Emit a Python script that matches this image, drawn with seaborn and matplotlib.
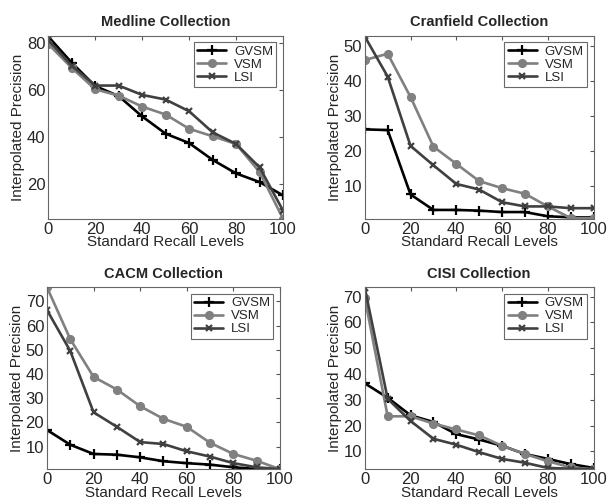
import matplotlib
matplotlib.use("Agg")
import matplotlib.pyplot as plt
import seaborn as sns

sns.set_style("white")
plt.rcParams['font.family'] = ['Liberation Sans', 'DejaVu Sans']
plt.rcParams['font.size'] = 10

recall = [0, 10, 20, 30, 40, 50, 60, 70, 80, 90, 100]

# Medline
med_gvsm = [83, 71.8, 61.8, 57.5, 48.8, 41.4, 37.4, 30.2, 24.4, 20.7, 15]
med_vsm = [79.8, 69.6, 60.4, 57.7, 53, 49.6, 43.5, 40.3, 37, 25, 5]
med_lsi = [81.5, 70.5, 62, 62, 58, 56, 51, 42, 37, 27, 8.5]

# Cranfield
cran_gvsm = [26.2, 26, 7.7, 3.3, 3.3, 3.1, 2.7, 2.7, 1.5, 1.2, 1.2]
cran_vsm = [45.9, 47.7, 35.4, 21.3, 16.4, 11.5, 9.5, 7.9, 4.3, 1.0, 1.0]
cran_lsi = [52.6, 41.2, 21.5, 16, 10.7, 9.1, 5.5, 4.3, 4.3, 3.8, 3.8]

# CACM
cacm_gvsm = [16.9, 10.8, 7, 6.7, 5.6, 4, 3.2, 2.6, 1.5, 0.8, 0.7]
cacm_vsm = [75.8, 54.4, 38.8, 33.6, 26.7, 21.5, 18.2, 11.6, 7, 4.2, 0.7]
cacm_lsi = [66.4, 49.5, 24.2, 18.2, 11.9, 11.1, 8.1, 5.9, 3.2, 1.5, 0.7]

# CISI
cisi_gvsm = [36.4, 30.8, 24, 21.4, 16.7, 14.6, 12.2, 9, 7.1, 5.1, 3.6]
cisi_vsm = [69.5, 23.6, 23.6, 20.8, 18.5, 16.2, 12.2, 9, 6.2, 3.8, 3.1]
cisi_lsi = [73.4, 30.4, 21.8, 14.9, 12.6, 9.7, 7.1, 5.6, 3.6, 3.3, 3.1]

panels = [
    ("Medline Collection", med_gvsm, med_vsm, med_lsi, (5, 83.3), [20, 40, 60, 80],
     [0.079, 0.566, 0.385, 0.363]),
    ("Cranfield Collection", cran_gvsm, cran_vsm, cran_lsi, (0.8, 52.8), [10, 20, 30, 40, 50],
     [0.598, 0.566, 0.375, 0.363]),
    ("CACM Collection", cacm_gvsm, cacm_vsm, cacm_lsi, (0.7, 75.8), [10, 20, 30, 40, 50, 60, 70],
     [0.077, 0.069, 0.382, 0.361]),
    ("CISI Collection", cisi_gvsm, cisi_vsm, cisi_lsi, (3.1, 73.6), [10, 20, 30, 40, 50, 60, 70],
     [0.598, 0.069, 0.375, 0.361]),
]

styles = [("GVSM", "black", "+", 7.5), ("VSM", "#808080", "o", 5), ("LSI", "#404040", "x", 4.5)]

fig = plt.figure(figsize=(6.1, 5.04), dpi=100)
for title, g, v, l, ylim, yticks, pos in panels:
    ax = fig.add_axes(pos)
    for (name, col, mk, ms), vals in zip(styles, [g, v, l]):
        sns.lineplot(x=recall, y=vals, ax=ax, color=col, marker=mk, markersize=ms,
                     markeredgewidth=1.6, markeredgecolor=col, linewidth=1.9, label=name)
    ax.set_xlim(0, 100)
    ax.set_ylim(*ylim)
    ax.set_xticks([0, 20, 40, 60, 80, 100])
    ax.set_yticks(yticks)
    ax.tick_params(direction="in", top=True, right=True, labelsize=12, length=3,
                   color="#555555", pad=2)
    for sp in ax.spines.values():
        sp.set_color("#666666")
        sp.set_linewidth(0.8)
    ax.set_title(title, fontsize=10.5, fontweight="bold", pad=7)
    ax.set_xlabel("Standard Recall Levels", fontsize=11, labelpad=-1)
    ax.set_ylabel("Interpolated Precision", fontsize=11, labelpad=1)
    leg = ax.legend(loc="upper right", fontsize=9.5, frameon=True, fancybox=False,
                    borderaxespad=0.5, handlelength=2.2, borderpad=0.25,
                    labelspacing=0.05, handletextpad=0.6)
    leg.get_frame().set_edgecolor("#444444")
    leg.get_frame().set_linewidth(0.8)

plt.savefig("out.png", dpi=100)
